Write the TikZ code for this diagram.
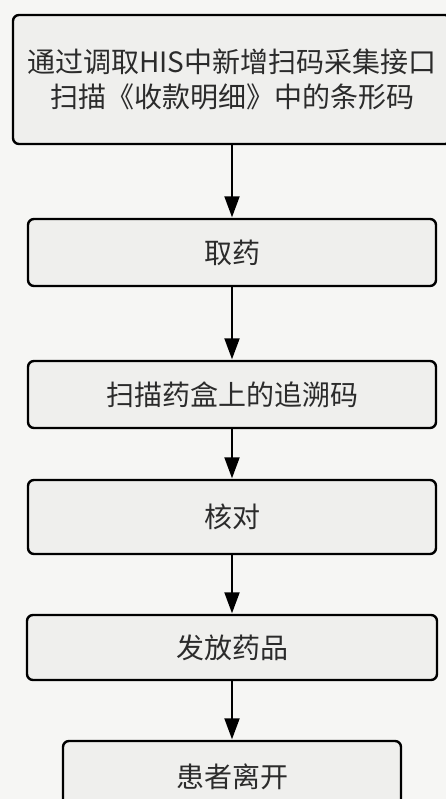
\documentclass[tikz,border=0pt]{standalone}
\usepackage{fontspec}
\newfontfamily\cjk{Noto Sans CJK SC}
\usetikzlibrary{arrows.meta}
\definecolor{bg}{HTML}{F6F6F4}
\definecolor{boxfill}{HTML}{EFEFED}
\definecolor{ink}{HTML}{2B2B2B}
\tikzset{
  stepbox/.style={draw=black, line width=2.4pt, rounded corners=6pt, fill=boxfill,
    text=ink, font=\cjk\fontsize{28}{35}\selectfont, align=center,
    inner sep=0pt, anchor=center},
  arr/.style={draw=black, line width=2pt, -{Triangle[length=21pt,width=15pt]}, shorten >=0.5pt}
}
\begin{document}
\begin{tikzpicture}[x=1pt,y=-1pt]
\clip (0,0) rectangle (446,799);
\fill[bg] (0,0) rectangle (446,799);
\node[stepbox, minimum width=438pt, minimum height=129pt] (b1) at (232,79.5)
  {通过调取HIS中新增扫码采集接口\\扫描《收款明细》中的条形码};
\node[stepbox, minimum width=408pt, minimum height=67pt] (b2) at (232,252.5) {取药};
\node[stepbox, minimum width=408pt, minimum height=67pt] (b3) at (232,394.5) {扫描药盒上的追溯码};
\node[stepbox, minimum width=408pt, minimum height=74pt] (b4) at (232,517) {核对};
\node[stepbox, minimum width=410pt, minimum height=65pt] (b5) at (232,647.5) {发放药品};
\node[stepbox, minimum width=338pt, minimum height=71pt] (b6) at (232,776.5) {患者离开};
\draw[arr] (b1) -- (b2);
\draw[arr] (b2) -- (b3);
\draw[arr] (b3) -- (b4);
\draw[arr] (b4) -- (b5);
\draw[arr] (b5) -- (b6);
\end{tikzpicture}
\end{document}
